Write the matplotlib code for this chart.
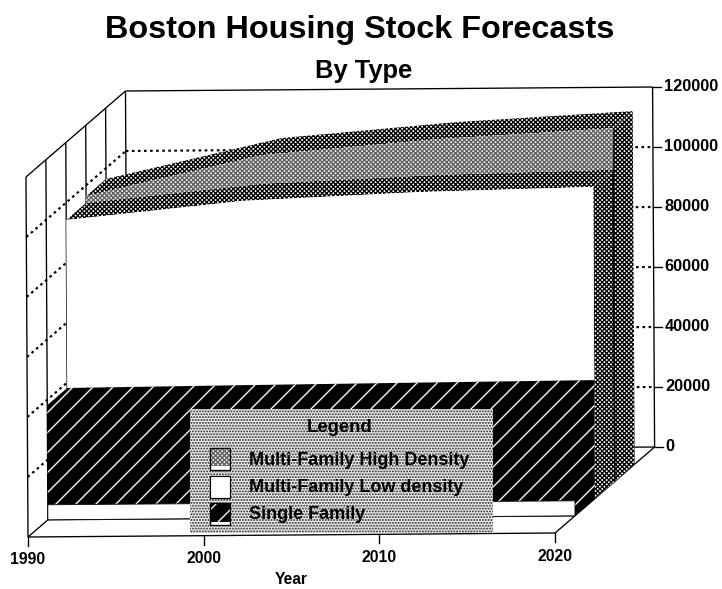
import numpy as np
import matplotlib
matplotlib.use("Agg")
import matplotlib.pyplot as plt
from matplotlib.patches import Polygon, Rectangle

plt.rcParams['font.family'] = ['Liberation Sans', 'DejaVu Sans']
plt.rcParams['hatch.linewidth'] = 0.8

# ---- data ----
years = [1990, 2000, 2010, 2020]
single_family = [38200, 38700, 39100, 39500]
multi_low = [56000, 61400, 63500, 64400]
multi_high = [2200, 9500, 11900, 13800]
base_strip = 5000
y_ticks = [0, 20000, 40000, 60000, 80000, 100000, 120000]
x_ticks = [1990, 2000, 2010, 2020]
legend_labels = ["Multi-Family High Density", "Multi-Family Low density", "Single Family"]

# ---- oblique projection of (year, depth, value) to figure pixels ----
DPI = 120
fig = plt.figure(figsize=(722 / DPI, 589 / DPI), dpi=DPI, facecolor='white')
ax = fig.add_axes([0, 0, 1, 1])
ax.set_xlim(0, 722)
ax.set_ylim(589, 0)
ax.axis('off')


def P(year, depth, value):
    t = np.asarray(year, float) - 1990
    v = np.asarray(value, float) / 1000
    x = 28 + 17.57 * t + 99.5 * depth - 0.0056 * 3 * v * 1.0
    y = 537 - 0.133 * t - 86 * depth - 3.0 * v
    return np.column_stack([np.atleast_1d(x), np.atleast_1d(y)])


def poly(points, z, **kw):
    pts = np.vstack([P(*p) for p in points])
    kw.setdefault('edgecolor', 'black')
    kw.setdefault('linewidth', 0.6)
    patch = Polygon(pts, closed=True, zorder=z, **kw)
    ax.add_patch(patch)
    return patch


def line(a, b, z=1, lw=0.8, **kw):
    pts = np.vstack([P(*a), P(*b)])
    ax.plot(pts[:, 0], pts[:, 1], color='black', lw=lw, zorder=z,
            solid_capstyle='butt', **kw)


s_top = np.array(single_family)
low_top = s_top + np.array(multi_low)
all_top = low_top + np.array(multi_high)
Y0, Y1 = years[0], years[-1]
TOP = y_ticks[-1]

# ---- walls ----
dotted = dict(linestyle=(0, (1.2, 1.6)))
for d in [0, .2, .4, .6, .8, 1]:
    line((Y0, d, 0), (Y0, d, TOP))
line((Y0, 0, TOP), (Y0, 1, TOP))
line((Y0, 1, TOP), (Y1, 1, TOP))
line((Y1, 1, 0), (Y1, 1, TOP))
line((Y0, 0, 0), (Y0, 1, 0))
line((Y0, 0, 0), (Y1, 0, 0))
line((Y1, 0, 0), (Y1, 1, 0))
line((Y0, .2, 0), (Y1, .2, 0))
line((Y0, 1, 0), (Y1, 1, 0))
for v in y_ticks[1:-1]:
    line((Y0, 0, v), (Y0, 1, v), lw=1.3, **dotted)
    line((Y0, 1, v), (Y1, 1, v), lw=1.3, **dotted)
for v in y_ticks:
    a = P(Y1, 1, v)[0]
    ax.plot([a[0], a[0] + 8], [a[1], a[1]], color='black', lw=0.8, zorder=1)
    ax.text(a[0] + 11, a[1] - 0.5, str(v), fontsize=9.8, fontweight='bold',
            va='center', ha='left')
for yr in x_ticks:
    a = P(yr, 0, 0)[0]
    ax.plot([a[0], a[0]], [a[1], a[1] + 9], color='black', lw=0.8, zorder=1)
    ax.text(a[0], a[1] + 23, str(yr), fontsize=9.5, fontweight='bold',
            va='center', ha='center')

# ---- styles ----
DARK = dict(facecolor='white', edgecolor='black', hatch='x' * 9, linewidth=0)
LIGHT = dict(facecolor='#f2f2f2', edgecolor='#606060', hatch='x' * 9, linewidth=0)
BLACK = dict(facecolor='black', edgecolor='white', hatch='//', linewidth=0)

# ---- right side strip ----
poly([(Y1, .4, 0), (Y1, .8, 0), (Y1, .8, all_top[-1]), (Y1, .6, all_top[-1]),
      (Y1, .6, low_top[-1]), (Y1, .4, low_top[-1])], 3, **DARK)
line((Y1, .6, 0), (Y1, .6, all_top[-1]), z=3.1, lw=1.0)

# ---- upper surface (depth .6 - .8) ----
upper = [(y, .8, v) for y, v in zip(years, all_top)] + \
        [(y, .6, v) for y, v in zip(years[::-1], all_top[::-1])]
poly(upper, 4, **DARK)
# ---- Multi-Family High Density face (depth .6) ----
face = [(y, .6, v) for y, v in zip(years, all_top)] + \
       [(y, .6, v) for y, v in zip(years[::-1], low_top[::-1])]
poly(face, 4, **LIGHT)
# ---- lower surface (depth .4 - .6) ----
lower = [(y, .6, v) for y, v in zip(years, low_top)] + \
        [(y, .4, v) for y, v in zip(years[::-1], low_top[::-1])]
poly(lower, 4, **DARK)
# ---- Multi-Family Low density face (depth .4) ----
low_face = [(y, .4, v) for y, v in zip(years, low_top)] + \
           [(y, .4, v) for y, v in zip(years[::-1], s_top[::-1])]
poly(low_face, 4, facecolor='white', edgecolor='none', linewidth=0)
# ---- Single Family ----
black = [(Y0, .2, base_strip), (Y0, .2, s_top[0])] + \
        [(y, .4, v) for y, v in zip(years, s_top)] + \
        [(Y1, .4, 0), (Y1, .2, 0), (Y1, .2, base_strip)]
poly(black, 5, **BLACK)
poly([(Y0, .2, 0), (Y1, .2, 0), (Y1, .2, base_strip), (Y0, .2, base_strip)], 5,
     facecolor='white', edgecolor='black', linewidth=0.5)

# ---- legend ----
ax.add_patch(Rectangle((190, 409), 303, 124, facecolor='#ececec', edgecolor='#222222',
                       hatch='.' * 7, linewidth=0, zorder=10))
ax.text(340, 432, "Legend", fontsize=11.1, fontweight='bold', ha='center', va='baseline', zorder=11)
sw_style = [
    dict(facecolor='#f2f2f2', edgecolor='#606060', hatch='x' * 9),
    dict(facecolor='white', edgecolor='white'),
    dict(facecolor='black', edgecolor='white', hatch='//'),
]
sw_tops = [448, 476, 503]
sw_strip = [4, 0, 3]
baselines = [465, 492, 519]
for lab, top, strip, base, st in zip(legend_labels, sw_tops, sw_strip, baselines, sw_style):
    ax.add_patch(Rectangle((210, top), 20, 22, facecolor='white', edgecolor='black',
                           linewidth=0.7, zorder=11))
    ax.add_patch(Rectangle((210, top), 20, 22 - strip, linewidth=0, zorder=11.1, **st))
    ax.add_patch(Rectangle((210, top), 20, 22, facecolor='none', edgecolor='black',
                           linewidth=0.7, zorder=11.2))
    ax.text(249, base, lab, fontsize=10.8, fontweight='bold', ha='left', va='baseline', zorder=11)

# ---- titles ----
ax.text(360, 38, "Boston Housing Stock Forecasts", fontsize=19.4, fontweight='bold',
        ha='center', va='baseline')
ax.text(363.5, 78, "By Type", fontsize=15.3, fontweight='bold', ha='center', va='baseline')
ax.text(291.5, 579, "Year", fontsize=9.4, fontweight='bold', ha='center', va='center')

fig.savefig("out.png", dpi=DPI, facecolor='white')
